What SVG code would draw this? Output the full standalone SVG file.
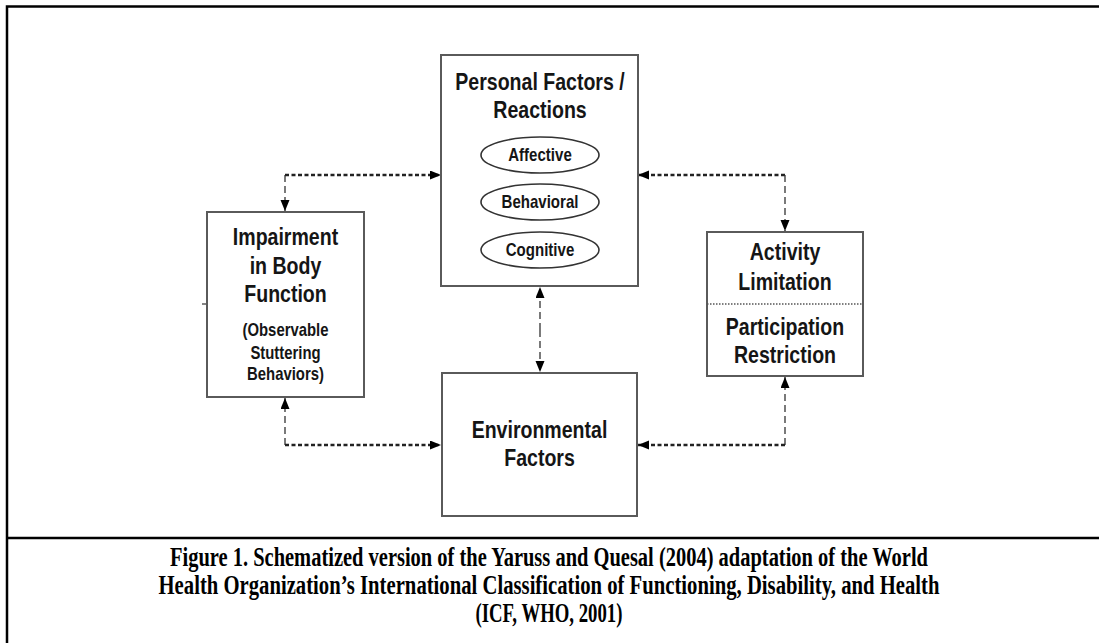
<svg xmlns="http://www.w3.org/2000/svg" width="1099" height="643" viewBox="0 0 1099 643">
<style>
.box{fill:#fff;stroke:#5a5a5a;stroke-width:2}
.ell{fill:#fff;stroke:#333;stroke-width:1.6}
.t{font-family:"Liberation Sans",Arial,sans-serif;font-weight:bold;font-size:23px;fill:#151515;text-anchor:middle}
.s{font-family:"Liberation Sans",Arial,sans-serif;font-weight:bold;font-size:17.5px;fill:#151515;text-anchor:middle}
.h{fill:none;stroke:#222;stroke-width:2.4;stroke-dasharray:4 2.5}
.v{fill:none;stroke:#333;stroke-width:1.3;stroke-dasharray:7 4}
.cap{font-family:"Liberation Serif","Times New Roman",serif;font-weight:bold;font-size:24px;fill:#000;text-anchor:middle}
.frame{stroke:#000;stroke-width:2.5;fill:none}
</style>
<defs>
<marker id="ah" markerUnits="userSpaceOnUse" markerWidth="12" markerHeight="10" refX="11" refY="4.5" orient="auto" viewBox="0 0 12 10">
<path d="M0,0 L11,4.5 L0,9 z" fill="#000"/>
</marker>
</defs>
<rect width="1099" height="643" fill="#fff"/>
<g id="frame">
<path class="frame" d="M7,643 V6.5 H1099"/>
<path class="frame" d="M7,538 H1099"/>
</g>
<g id="connectors">
<path class="v" d="M285,175 V211" marker-end="url(#ah)"/>
<path class="h" d="M285,175 H441" marker-end="url(#ah)"/>
<path class="h" d="M785,175 H638" marker-end="url(#ah)"/>
<path class="v" d="M785,175 V231" marker-end="url(#ah)"/>
<path class="v" d="M540,330 V287" marker-end="url(#ah)"/>
<path class="v" d="M540,330 V372" marker-end="url(#ah)"/>
<path class="v" d="M285,445 V398" marker-end="url(#ah)"/>
<path class="h" d="M285,445 H441" marker-end="url(#ah)"/>
<path class="v" d="M785,445 V377" marker-end="url(#ah)"/>
<path class="h" d="M785,445 H638" marker-end="url(#ah)"/>
<path d="M202,304 H207" stroke="#333" stroke-width="1.2"/>
</g>
<g id="personal">
<rect class="box" x="441" y="55" width="197" height="231"/>
<g transform="translate(540,0) scale(0.85,1)">
<text class="t" x="0" y="90">Personal Factors /</text>
<text class="t" x="0" y="118">Reactions</text>
</g>
<g id="affective">
<ellipse class="ell" cx="540" cy="155" rx="59" ry="18"/>
<text class="s" transform="translate(540,0) scale(0.86,1)" x="0" y="161">Affective</text>
</g>
<g id="behavioral">
<ellipse class="ell" cx="540" cy="202" rx="59" ry="18"/>
<text class="s" transform="translate(540,0) scale(0.86,1)" x="0" y="208">Behavioral</text>
</g>
<g id="cognitive">
<ellipse class="ell" cx="540" cy="250" rx="59" ry="18"/>
<text class="s" transform="translate(540,0) scale(0.86,1)" x="0" y="256">Cognitive</text>
</g>
</g>
<g id="impairment">
<rect class="box" x="207" y="212" width="157" height="185"/>
<g transform="translate(285.5,0) scale(0.85,1)">
<text class="t" x="0" y="245">Impairment</text>
<text class="t" x="0" y="274">in Body</text>
<text class="t" x="0" y="302">Function</text>
<text class="s" x="0" y="336">(Observable</text>
<text class="s" x="0" y="359">Stuttering</text>
<text class="s" x="0" y="380">Behaviors)</text>
</g>
</g>
<g id="activity">
<rect class="box" x="707" y="232" width="156" height="144"/>
<path d="M707,304 H863" stroke="#555" stroke-width="1.5" stroke-dasharray="1.5 1.5"/>
<g transform="translate(785,0) scale(0.85,1)">
<text class="t" x="0" y="260">Activity</text>
<text class="t" x="0" y="290">Limitation</text>
<text class="t" x="0" y="335">Participation</text>
<text class="t" x="0" y="363">Restriction</text>
</g>
</g>
<g id="environmental">
<rect class="box" x="442" y="373" width="195" height="143"/>
<g transform="translate(539.5,0) scale(0.85,1)">
<text class="t" x="0" y="438">Environmental</text>
<text class="t" x="0" y="466">Factors</text>
</g>
</g>
<g id="caption">
<text class="cap" transform="translate(549,566) scale(1,1.1)" x="0" y="0" textLength="758" lengthAdjust="spacingAndGlyphs">Figure 1. Schematized version of the Yaruss and Quesal (2004) adaptation of the World</text>
<text class="cap" transform="translate(549,594) scale(1,1.1)" x="0" y="0" textLength="781" lengthAdjust="spacingAndGlyphs">Health Organization’s International Classification of Functioning, Disability, and Health</text>
<text class="cap" transform="translate(549,622) scale(1,1.1)" x="0" y="0" textLength="147" lengthAdjust="spacingAndGlyphs">(ICF, WHO, 2001)</text>
</g>
</svg>
